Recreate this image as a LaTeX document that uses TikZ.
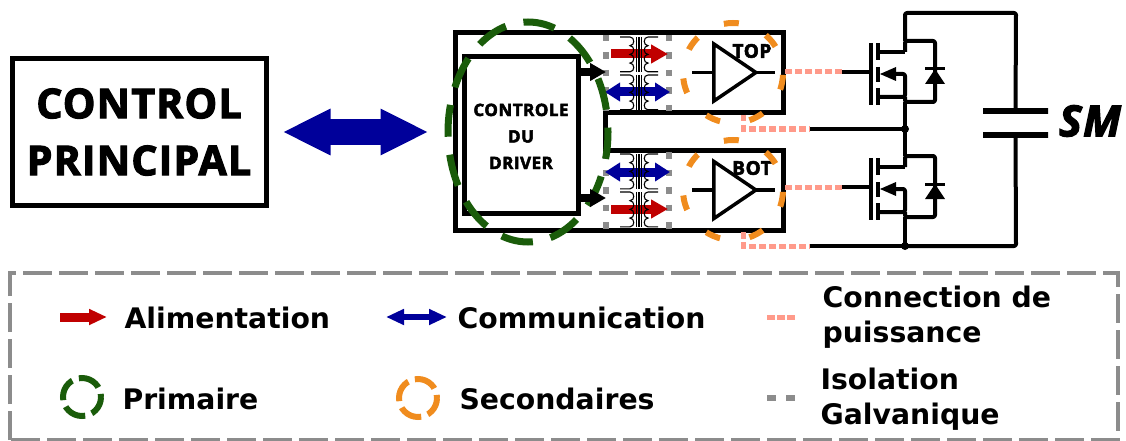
\documentclass[tikz,border=0pt]{standalone}
\usepackage{fontspec}
\setmainfont{DejaVu Sans}
\newfontfamily\heavyfont[FakeBold=2.8,LetterSpace=3]{Open Sans}
\usetikzlibrary{arrows.meta,positioning,shapes.geometric}

\definecolor{alimred}{HTML}{C00000}
\definecolor{commblue}{HTML}{00009A}
\definecolor{primgreen}{HTML}{1A5C0A}
\definecolor{secorange}{HTML}{F08C1E}
\definecolor{puisspink}{HTML}{FF9A8A}
\definecolor{isolgray}{HTML}{8C8C8C}

\tikzset{
  wire/.style={line width=4pt,line join=round,rounded corners=2pt},
  thinwire/.style={line width=1.1pt},
  bigbox/.style={draw,line width=5pt,fill=white,inner sep=0pt,align=center,font=\heavyfont\bfseries},
  alim/.style={draw=alimred,line width=9pt,-{Triangle[length=17pt,width=18pt]}},
  comm/.style={draw=commblue,line width=9pt,{Triangle[length=15pt,width=18pt]}-{Triangle[length=15pt,width=18pt]}},
  ctrlarrow/.style={line width=8pt,-{Triangle[length=16pt,width=17pt]}},
  prim/.style={draw=primgreen,line width=7pt,dash pattern=on 32pt off 18.1pt},
  sec/.style={draw=secorange,line width=6pt,dash pattern=on 15pt off 29.9pt},
  puiss/.style={draw=puisspink,line width=5pt,dash pattern=on 6.5pt off 3.5pt},
  isol/.style={draw=isolgray,line width=6.5pt,dash pattern=on 6.5pt off 11pt},
  frame/.style={draw=isolgray,line width=4pt,dash pattern=on 29pt off 7pt},
  amp/.style={draw,line width=3.5pt,isosceles triangle,isosceles triangle stretches,
    minimum width=57pt,minimum height=42pt,inner sep=0pt,outer sep=0pt,fill=white},
  amplabel/.style={font=\heavyfont\bfseries\fontsize{19}{19}\selectfont},
  legtext/.style={anchor=west,align=left,font=\bfseries\fontsize{28.3}{35}\selectfont},
  keyring/.style={line width=6pt,circle,minimum size=38pt,inner sep=0pt,dash pattern=on 22.85pt off 7pt,dash phase=19.75pt},
  pics/mosfet/.style={code={
    \draw[wire] (871,43) -- (871,105);
    \foreach \a/\b in {43/60,67/82,88/105} \draw[wire] (878,\a) -- (878,\b);
    \draw[wire] (878,52) -- (905,52);
    \draw[wire] (878,97) -- (905,97) -- (905,74) -- (892,74);
    \fill (880,74) -- (896,67) -- (896,81) -- cycle;
    \draw[wire] (905,52) -- (905,41) -- (935,41) -- (935,102) -- (905,102) -- (905,97);
    \draw[line width=3pt] (925,69) -- (945,69);
    \fill (935,69) -- (945,84) -- (925,84) -- cycle;
    \coordinate (-g) at (871,72);
    \coordinate (-d) at (905,41);
    \coordinate (-s) at (905,102);
  }},
  pics/transfo/.style={code={
    \foreach \s in {-1,1} {
      \draw[thinwire] (\s*19,0) -- (\s*9,0)
        .. controls (\s*4,0) and (\s*4,8.7) .. (\s*9,8.7)
        .. controls (\s*4,8.7) and (\s*4,17.4) .. (\s*9,17.4)
        .. controls (\s*4,17.4) and (\s*4,26.1) .. (\s*9,26.1)
        .. controls (\s*4,26.1) and (\s*4,34.8) .. (\s*9,34.8) -- (\s*19,34.8);
      \draw[thinwire] (\s*2.3,0) -- (\s*2.3,34.8);
    }
    \draw[thinwire] (0,0) -- (0,34.8);
  }}
}

\begin{document}
\begin{tikzpicture}[x=1pt,y=-1pt]
\useasboundingbox (0,0) rectangle (1126,441);

% main control and driver
\node[bigbox,minimum width=254pt,minimum height=146pt,font=\heavyfont\bfseries\fontsize{41}{57}\selectfont] (ctrl) at (139,132) {CONTROL\\PRINCIPAL};
\draw[line width=5pt] (455,33) -- (783,33) -- (783,113) -- (605,113) -- (605,150) -- (783,150) -- (783,230) -- (455,230) -- cycle;
\node[bigbox,minimum width=114pt,minimum height=156pt,font=\heavyfont\bfseries\fontsize{17}{26.5}\selectfont] (driver) at (521,135) {\rule{0pt}{15pt}CONTROLE\\DU\\DRIVER};
\draw[draw=commblue,line width=25pt,{Triangle[length=48pt,width=43pt]}-{Triangle[length=48pt,width=43pt]},shorten <=14pt,shorten >=33pt] (ctrl.east) -- (ctrl.east -| driver.west);

% isolation
\foreach \x in {606,669} {
  \draw[isol] (\x,35) -- (\x,112);
  \draw[isol] (\x,152) -- (\x,229);
}
\foreach \y/\name in {54/A,209/B} {
  \coordinate (alim\name s) at (611,\y);
  \coordinate (alim\name e) at (668,\y);
  \draw[alim] (alim\name s) -- (alim\name e);
}
\foreach \y/\name in {92/A,172/B} {
  \coordinate (comm\name s) at (605,\y);
  \coordinate (comm\name e) at (670,\y);
  \draw[comm] (comm\name s) -- (comm\name e);
}
\foreach \y in {37,75,154,192} \pic at (639,\y) {transfo};

% amplifiers
\node[amp] (ampTop) at (729,72.5) {};
\node[amp] (ampBot) at (729,190) {};
\coordinate (ampTopIn) at (692,72.5);
\coordinate (ampTopOut) at (775,72.5);
\coordinate (ampBotIn) at (692,190);
\coordinate (ampBotOut) at (775,190);
\draw[line width=3.5pt] (ampTopIn) -- (ampTop.lower side);
\draw[line width=3.5pt] (ampTop.apex) -- (ampTopOut);
\draw[line width=3.5pt] (ampBotIn) -- (ampBot.lower side);
\draw[line width=3.5pt] (ampBot.apex) -- (ampBotOut);
\node[amplabel] (topLabel) at (752,51) {TOP};
\node[amplabel] (botLabel) at (752,168) {BOT};

% zones
\draw[prim,dash phase=5pt] (528,132) ellipse [x radius=80,y radius=110];
\node[sec,circle,minimum size=100pt,inner sep=0pt,dash phase=17.1pt] (secTop) at (733,73) {};
\node[sec,circle,minimum size=100pt,inner sep=0pt,dash phase=17.1pt] (secBot) at (733,190) {};
\coordinate (outA) at (606,72);
\coordinate (outB) at (606,198);
\draw[ctrlarrow] (driver.east |- outA) -- (outA);
\draw[ctrlarrow] (driver.east |- outB) -- (outB);

% half bridge
\pic (swTop) at (0,0) {mosfet};
\pic (swBot) at (0,115) {mosfet};
\coordinate (mid) at (905,129);
\coordinate (low) at (905,246);
\node[draw,line width=5.5pt,minimum width=65pt,minimum height=0pt,inner sep=0pt] (capTop) at (1015.5,111) {};
\node[draw,line width=5.5pt,minimum width=65pt,minimum height=0pt,inner sep=0pt] (capBot) at (1015.5,135) {};
\draw[wire] (swTop-d) -- (905,13) -- (1016,13) -- (capTop.center);
\draw[wire] (swTop-s) -- (mid) -- (swBot-d);
\draw[wire] (swBot-s) -- (low);
\draw[wire] (capBot.center) -- (1016,246) -- (low);
\fill (mid) circle (4);
\fill (low) circle (4);
\node[font=\heavyfont\bfseries\itshape\fontsize{43}{43}\selectfont] (smLabel) at (1090,121) {SM};

% power links
\coordinate (gateTopEnd) at (842,72);
\coordinate (gateBotEnd) at (842,187);
\coordinate (midEnd) at (810,129);
\coordinate (lowEnd) at (810,246);
\draw[line width=4pt] (gateTopEnd) -- (swTop-g);
\draw[line width=4pt] (gateBotEnd) -- (swBot-g);
\draw[line width=4pt] (midEnd) -- (mid);
\draw[line width=4pt] (lowEnd) -- (low);
\draw[puiss] (785,72) -- (gateTopEnd);
\draw[puiss] (785,187) -- (gateBotEnd);
\draw[puiss] (743,115) -- (743,129) -- (midEnd);
\draw[puiss] (743,232) -- (743,246) -- (lowEnd);

% legend
\draw[frame] (10,440) -- (10,273) -- (1118,273) -- (1118,440) -- cycle;
\coordinate (keyAlimA) at (60,317);
\coordinate (keyAlimB) at (107,317);
\draw[draw=alimred,line width=9pt,-{Triangle[length=18pt,width=15pt]}] (keyAlimA) -- (keyAlimB);
\node[legtext] (txtAlim) at (121,318) {Alimentation};
\coordinate (keyCommA) at (386,317);
\coordinate (keyCommB) at (447,317);
\draw[draw=commblue,line width=6pt,{Triangle[length=18pt,width=15pt]}-{Triangle[length=18pt,width=15pt]}] (keyCommA) -- (keyCommB);
\node[legtext] (txtComm) at (454,318) {Communication};
\coordinate (keyPuissA) at (767,317);
\coordinate (keyPuissB) at (795,317);
\draw[draw=puisspink,line width=5pt,dash pattern=on 7.6pt off 2.6pt] (keyPuissA) -- (keyPuissB);
\node[legtext] (txtPuiss) at (819,317.5) {Connection de\\puissance};
\node[keyring,draw=primgreen] (keyPrim) at (82,397) {};
\node[legtext] (txtPrim) at (119,399) {Primaire};
\node[keyring,draw=secorange] (keySec) at (418,398) {};
\node[legtext] (txtSec) at (456,399) {Secondaires};
\coordinate (keyIsolA) at (767,398);
\coordinate (keyIsolB) at (795,398);
\draw[draw=isolgray,line width=6pt,dash pattern=on 9pt off 10pt] (keyIsolA) -- (keyIsolB);
\node[legtext] (txtIsol) at (817,399) {Isolation\\Galvanique};
\end{tikzpicture}
\end{document}
